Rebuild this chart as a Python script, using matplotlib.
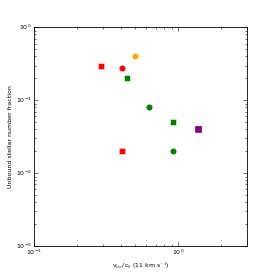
import numpy as np
import matplotlib
matplotlib.use("Agg")
import matplotlib.pyplot as plt

plt.style.use("classic")

# circles
circ_x = [0.41, 0.50, 0.63, 0.92]
circ_y = [0.28, 0.40, 0.08, 0.02]
circ_c = ["red", "orange", "green", "green"]

# squares
sq_x = [0.29, 0.44, 0.92, 1.37, 0.41]
sq_y = [0.30, 0.20, 0.05, 0.04, 0.02]
sq_c = ["red", "green", "green", "purple", "red"]

fig = plt.figure(figsize=(2.74, 2.74), dpi=100, facecolor="white")
ax = fig.add_axes([0.124, 0.102, 0.777, 0.798])

for x, y, c in zip(circ_x, circ_y, circ_c):
    ax.plot(x, y, "o", color=c, markeredgecolor=c, markersize=3.8)
for x, y, c in zip(sq_x, sq_y, sq_c):
    ax.plot(x, y, "s", color=c, markeredgecolor="#ffcccc" if c == "red" else "#ccffcc" if c == "green" else c,
            markersize=4.3, markeredgewidth=0.5)

ax.set_xscale("log")
ax.set_yscale("log")
ax.set_xlim(0.1, 3.0)
ax.set_ylim(1e-3, 1.0)

ax.tick_params(labelsize=4.5, length=3, width=0.4, pad=1.5)
ax.tick_params(which="minor", length=1.5, width=0.4)
for s in ax.spines.values():
    s.set_linewidth(0.6)

ax.set_xlabel(r"v$_{\rm esc}$/c$_0$ (11 km s$^{-1}$)", fontsize=4.5, labelpad=2)
ax.set_ylabel("Unbound stellar number fraction", fontsize=4.5, labelpad=2)

fig.savefig("out.png", dpi=100, facecolor="white")
